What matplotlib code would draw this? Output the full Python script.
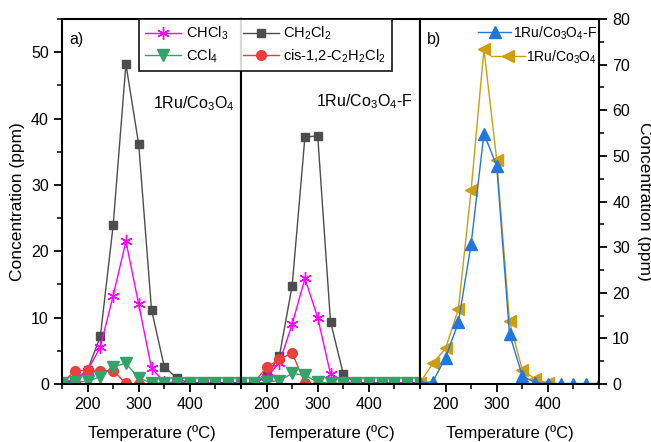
import matplotlib
matplotlib.use("Agg")
import matplotlib.pyplot as plt
from matplotlib.ticker import MultipleLocator
from matplotlib.lines import Line2D

plt.rcParams['font.family'] = ['Liberation Sans', 'DejaVu Sans']
plt.rcParams['mathtext.fontset'] = 'custom'
plt.rcParams['mathtext.rm'] = 'Liberation Sans'
plt.rcParams['mathtext.it'] = 'Liberation Sans'

nan = float('nan')
temps = [150, 175, 200, 225, 250, 275, 300, 325, 350, 375, 400, 425, 450, 475, 500]

# Panel a) 1Ru/Co3O4
a_chcl3 = [0.1, 0.8, 2.0, 5.6, 13.3, 21.5, 12.0, 2.4, 0.3, 0.2, 0.2, 0.2, 0.2, 0.2, 0.2]
a_ch2cl2 = [0.1, 0.6, 2.1, 7.2, 23.9, 48.2, 36.1, 11.2, 2.6, 0.85, 0.1, 0.1, 0.1, 0.1, 0.1]
a_ccl4 = [0.1, 0.3, 0.4, 1.1, 2.6, 3.1, 0.9, 0.2, 0.1, 0.1, 0.1, 0.1, 0.1, 0.1, 0.1]
a_cis = [0.1, 2.0, 2.1, 2.0, 2.0, 0.1, 0.0, 0.0, 0.0, 0.0, 0.0, 0.0, 0.0, 0.0, 0.0]

# Panel 1Ru/Co3O4-F
f_chcl3 = [0.1, 0.1, 1.0, 3.2, 9.0, 15.9, 10.0, 1.5, 0.3, 0.2, 0.2, 0.2, 0.2, 0.2, 0.2]
f_ch2cl2 = [0.1, 0.1, 1.2, 4.2, 14.8, 37.2, 37.4, 9.4, 1.5, 0.1, 0.1, 0.1, 0.1, 0.1, 0.1]
f_ccl4 = [0.1, 0.1, 0.3, 0.5, 1.6, 1.3, 0.3, 0.1, 0.1, 0.1, 0.1, 0.1, 0.1, 0.1, 0.1]
f_cis = [0.0, 0.2, 2.5, 3.7, 4.7, 0.1, 0.0, 0.0, 0.0, 0.0, 0.0, 0.0, 0.0, 0.0, 0.0]

# Panel b) total
b_f = [0.2, 0.5, 5.8, 13.5, 30.7, 54.9, 47.8, 11.0, 1.8, 0.3, 0.1, 0.1, 0.1, 0.1, 0.1]
b_nf = [0.3, 4.5, 7.8, 16.4, 42.5, 73.4, 49.1, 13.7, 3.1, 1.1, 0.2, nan, nan, nan, nan]

labels_a = ['CHCl$_3$', 'CCl$_4$', 'CH$_2$Cl$_2$', 'cis-1,2-C$_2$H$_2$Cl$_2$']
labels_b = ['1Ru/Co$_3$O$_4$-F', '1Ru/Co$_3$O$_4$']

c_chcl3 = '#ff00ff'
c_ch2cl2 = '#4d4d4d'
c_ccl4 = '#33a36a'
c_cis = '#ea3f3a'
c_blue = '#2277dd'
c_gold = '#cc9e10'

fig = plt.figure(figsize=(6.51, 4.42), dpi=100)
bottom, top = 1 - 384/442, 1 - 19/442
h = top - bottom
lefts = [62/651, 241/651, 420/651]
w = 179/651
axes = [fig.add_axes([l, bottom, w, h]) for l in lefts]

def style(ax):
    for s in ax.spines.values():
        s.set_linewidth(1.5)
    ax.set_xlim(150, 500)
    ax.set_xticks([200, 300, 400])
    ax.xaxis.set_minor_locator(MultipleLocator(50))
    ax.tick_params(axis='both', which='major', direction='out', length=6, width=1.3, labelsize=11.5)
    ax.tick_params(axis='both', which='minor', direction='out', length=3.5, width=1.1)
    ax.set_xlabel('Temperature (ºC)', fontsize=12, labelpad=9)

ms = 6
star = (6, 2, 0)
for ax, (chcl3, ch2cl2, ccl4, cis) in zip(axes[:2], [(a_chcl3, a_ch2cl2, a_ccl4, a_cis), (f_chcl3, f_ch2cl2, f_ccl4, f_cis)]):
    ax.plot(temps, ch2cl2, '-', color=c_ch2cl2, lw=1, marker='s', ms=ms)
    ax.plot(temps, chcl3, '-', color=c_chcl3, lw=1, marker=star, ms=9, mew=1)
    ax.plot(temps, cis, '-', color=c_cis, lw=1, marker='o', ms=7)
    ax.plot(temps, ccl4, '-', color=c_ccl4, lw=1, marker='v', ms=8)
    ax.set_ylim(0, 55)
    ax.yaxis.set_major_locator(MultipleLocator(10))
    ax.yaxis.set_minor_locator(MultipleLocator(5))
    style(ax)

axes[0].set_ylabel('Concentration (ppm)', fontsize=12.5, labelpad=4)
axes[1].tick_params(axis='y', which='both', left=False, labelleft=False)
axes[0].text(0.04, 0.965, 'a)', transform=axes[0].transAxes, fontsize=11.5, va='top')
axes[0].text(0.735, 0.755, '1Ru/Co$_3$O$_4$', transform=axes[0].transAxes, fontsize=11.5,
             ha='center', va='baseline')
axes[1].text(0.96, 0.76, '1Ru/Co$_3$O$_4$-F', transform=axes[1].transAxes, fontsize=11.5,
             ha='right', va='baseline')

ax3 = axes[2]
ax3.plot(temps, b_nf, '-', color=c_gold, lw=1, marker='<', ms=8.5)
ax3.plot(temps, b_f, '-', color=c_blue, lw=1, marker='^', ms=8.5)
ax3.set_ylim(0, 80)
ax3.yaxis.set_major_locator(MultipleLocator(10))
ax3.yaxis.set_minor_locator(MultipleLocator(5))
style(ax3)
ax3.yaxis.tick_right()
ax3.yaxis.set_label_position('right')
ax3.set_ylabel('Concentration (ppm)', fontsize=12.5, rotation=270, labelpad=16)
ax3.text(0.04, 0.965, 'b)', transform=ax3.transAxes, fontsize=11.5, va='top')

hb_f = Line2D([], [], color=c_blue, marker='^', ms=8.5, lw=1)
hb_nf = Line2D([], [], color=c_gold, marker='<', ms=8.5, lw=1)
fx = (597 - 420) / 179
lg1 = ax3.legend([hb_f], [labels_b[0]], loc='center right', bbox_to_anchor=(fx, (384 - 33) / 365),
                 frameon=False, fontsize=10, handlelength=2.4, handletextpad=0.1,
                 borderaxespad=0, borderpad=0)
ax3.add_artist(lg1)
ax3.legend([hb_nf], [labels_b[1]], loc='center right', bbox_to_anchor=(fx, (384 - 57) / 365),
           frameon=False, fontsize=10, handlelength=2.4, handletextpad=0.1,
           borderaxespad=0, borderpad=0)

ha = [Line2D([], [], color=c_chcl3, marker=star, ms=9, lw=1),
      Line2D([], [], color=c_ccl4, marker='v', ms=8, lw=1),
      Line2D([], [], color=c_ch2cl2, marker='s', ms=6, lw=1),
      Line2D([], [], color=c_cis, marker='o', ms=7, lw=1)]
leg = fig.legend(ha, labels_a, ncol=2, loc='upper left', bbox_to_anchor=(139/651, 1 - 19/442),
                 fontsize=10.5, frameon=True, fancybox=False, edgecolor='black', framealpha=0.85,
                 handlelength=2.5, handletextpad=0.3, columnspacing=1.0, borderpad=0.4,
                 labelspacing=0.35, borderaxespad=0)
leg.get_frame().set_linewidth(1.3)

fig.savefig('out.png', dpi=100)
